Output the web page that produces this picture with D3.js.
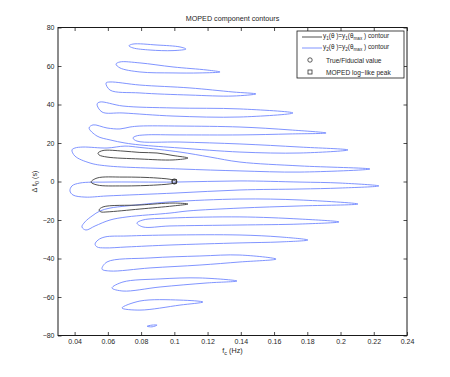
<!DOCTYPE html>
<html>
<head>
<meta charset="utf-8">
<script src="https://cdn.jsdelivr.net/npm/d3@7"></script>
<style>
body { margin: 0; background: #fff; }
svg { display: block; }
text { font-family: "Liberation Sans", Arial, sans-serif; fill: #262626; }
</style>
</head>
<body>
<svg id="chart" width="450" height="377"></svg>
<script>
// axis ticks
const xTicks = [0.04, 0.06, 0.08, 0.1, 0.12, 0.14, 0.16, 0.18, 0.2, 0.22, 0.24];
const xTickLabels = ['0.04', '0.06', '0.08', '0.1', '0.12', '0.14', '0.16', '0.18', '0.2', '0.22', '0.24'];
const yTicks = [-80, -60, -40, -20, 0, 20, 40, 60, 80];
const yTickLabels = ['\u221280', '\u221260', '\u221240', '\u221220', '0', '20', '40', '60', '80'];

// markers: [f_c, dt0]
const fiducial = [0.1, 0];
const molPeak = [0.1, 0];

// y2 contour (blue), closed loops of [f_c (Hz), dt0 (s)]
const blueContours = [
	[[0.0727, 70.5], [0.0751, 71.4], [0.0896, 70.9], [0.1034, 69.9], [0.1070, 68.8], [0.0992, 68.0], [0.0854, 68.3], [0.0751, 69.4]],
	[[0.0649, 61.0], [0.0673, 62.1], [0.0793, 61.6], [0.0992, 59.5], [0.1197, 57.9], [0.1275, 56.9], [0.1154, 56.4], [0.0992, 56.4], [0.0793, 56.9], [0.0673, 59.0]],
	[[0.0589, 51.2], [0.0613, 51.7], [0.0793, 50.1], [0.1094, 48.6], [0.1353, 46.5], [0.1491, 45.5], [0.1353, 44.4], [0.1094, 44.9], [0.0793, 46.0], [0.0613, 47.5]],
	[[0.0535, 40.2], [0.0553, 41.3], [0.0691, 39.2], [0.0992, 38.2], [0.1395, 37.7], [0.1714, 35.6], [0.1395, 33.5], [0.0992, 34.0], [0.0691, 35.6], [0.0565, 36.1]],
	[[0.0487, 27.8], [0.0511, 29.4], [0.0595, 27.8], [0.0673, 27.3], [0.0733, 28.3], [0.0793, 28.8], [0.1034, 28.8], [0.1395, 28.3], [0.1696, 26.8], [0.1913, 25.2],
	 [0.1696, 24.7], [0.1395, 24.2], [0.1034, 24.2], [0.0823, 24.2], [0.0769, 23.6], [0.0751, 22.6], [0.0775, 21.0], [0.1034, 20.5], [0.1395, 19.5], [0.1756, 17.9],
	 [0.2045, 16.4], [0.1756, 14.8], [0.1395, 15.3], [0.1034, 17.4], [0.0793, 19.0], [0.0703, 20.0], [0.0613, 21.6], [0.0535, 23.6]],
	[[0.0384, 16.4], [0.0402, 17.4], [0.0450, 17.9], [0.0595, 17.4], [0.0703, 18.4], [0.0793, 17.7], [0.1034, 15.3], [0.1215, 12.7], [0.1395, 10.1], [0.1756, 8.1],
	 [0.2177, 6.5], [0.1756, 4.9], [0.1395, 5.5], [0.1034, 6.5], [0.0595, 8.1], [0.0493, 9.6], [0.0402, 13.2]],
	[[0.0372, -4.9], [0.0384, -2.3], [0.0432, -0.8], [0.0595, -0.3], [0.1004, -0.3], [0.1395, 0.3], [0.1756, -0.3], [0.1997, -0.8], [0.2231, -2.3],
	 [0.1997, -3.4], [0.1756, -3.9], [0.1395, -4.4], [0.1004, -6.0], [0.0595, -7.5], [0.0462, -8.1], [0.0390, -7.0]],
	[[0.0444, -23.6], [0.0462, -21.0], [0.0505, -17.9], [0.0553, -15.3], [0.0613, -13.8], [0.0715, -12.7], [0.0974, -10.6], [0.1395, -9.1], [0.1756, -9.6], [0.2105, -11.7],
	 [0.1756, -12.7], [0.1395, -13.8], [0.1082, -15.3], [0.0974, -16.4], [0.0715, -18.4], [0.0613, -20.0], [0.0523, -23.1], [0.0468, -25.2]],
	[[0.0775, -21.6], [0.0811, -20.0], [0.0974, -19.0], [0.1395, -18.4], [0.1756, -19.5], [0.1991, -21.0], [0.1756, -22.1], [0.1395, -22.6], [0.0974, -23.1], [0.0811, -23.6]],
	[[0.0523, -32.5], [0.0541, -30.4], [0.0583, -28.8], [0.0715, -28.3], [0.0974, -27.8], [0.1395, -27.8], [0.1636, -28.8], [0.1804, -30.4],
	 [0.1636, -31.4], [0.1395, -31.9], [0.0974, -33.0], [0.0715, -34.0], [0.0583, -34.5], [0.0535, -34.0]],
	[[0.0565, -45.5], [0.0595, -41.8], [0.0854, -39.7], [0.1154, -38.7], [0.1395, -38.2], [0.1612, -40.3], [0.1395, -41.8], [0.1154, -43.4], [0.0854, -44.9], [0.0613, -46.5]],
	[[0.0625, -55.3], [0.0691, -52.2], [0.0914, -50.6], [0.1154, -50.1], [0.1377, -51.7], [0.1197, -52.7], [0.0914, -54.8], [0.0691, -56.9]],
	[[0.0685, -65.7], [0.0793, -62.1], [0.1034, -61.6], [0.1172, -62.6], [0.1034, -64.2], [0.0793, -66.8]],
	[[0.0836, -75.2], [0.0866, -74.6], [0.0896, -74.6], [0.0866, -75.5]]
];

// y1 contour (black)
const blackContours = [
	[[0.0541, 14.8], [0.0571, 16.1], [0.0691, 15.8], [0.0793, 15.1], [0.0896, 14.8], [0.0992, 13.5], [0.1082, 12.2], [0.0992, 11.2], [0.0793, 11.7], [0.0595, 12.7], [0.0547, 13.8]],
	[[0.0499, -0.3], [0.0535, 1.8], [0.0691, 2.3], [0.0896, 1.8], [0.0992, 0.8], [0.1016, -0.3], [0.0992, -1.0], [0.0896, -1.8], [0.0691, -2.3], [0.0535, -1.8]],
	[[0.0547, -14.8], [0.0571, -13.2], [0.0793, -12.2], [0.0992, -11.2], [0.1082, -11.7], [0.0992, -12.7], [0.0793, -14.3], [0.0595, -15.8], [0.0559, -15.8]]
];

const blueColor = '#7288ff';
const blackColor = '#3c3c3c';

const svg = d3.select('#chart');
const margin = {left: 58, right: 43, top: 27.5, bottom: 41.5};
const width = 450 - margin.left - margin.right;
const height = 377 - margin.top - margin.bottom;

const x = d3.scaleLinear().domain([0.03, 0.24]).range([margin.left, margin.left + width]);
const y = d3.scaleLinear().domain([-80, 80]).range([margin.top + height, margin.top]);

const line = d3.line()
	.x(d => x(d[0]))
	.y(d => y(d[1]))
	.curve(d3.curveCatmullRomClosed.alpha(0.5));

// contours
svg.append('g').selectAll('path').data(blueContours).enter()
	.append('path')
	.attr('d', line)
	.attr('fill', 'none')
	.attr('stroke', blueColor)
	.attr('stroke-width', 0.9);

svg.append('g').selectAll('path').data(blackContours).enter()
	.append('path')
	.attr('d', line)
	.attr('fill', 'none')
	.attr('stroke', blackColor)
	.attr('stroke-width', 0.9);

svg.append('circle')
	.attr('cx', x(fiducial[0])).attr('cy', y(fiducial[1]))
	.attr('r', 2.6)
	.attr('fill', 'none').attr('stroke', '#333').attr('stroke-width', 0.8);
svg.append('rect')
	.attr('x', x(molPeak[0]) - 2).attr('y', y(molPeak[1]) - 2)
	.attr('width', 4).attr('height', 4)
	.attr('fill', 'none').attr('stroke', '#333').attr('stroke-width', 0.8);

// axes, MATLAB style: ticks inside on all four sides
const tickLen = 3.5;
const fmtX = (d, i) => xTickLabels[i];
const fmtY = (d, i) => yTickLabels[i];

const gx = svg.append('g').attr('transform', `translate(0,${margin.top + height})`)
	.call(d3.axisBottom(x).tickValues(xTicks).tickFormat(fmtX).tickSizeInner(-tickLen).tickSizeOuter(0).tickPadding(3.5));
const gxTop = svg.append('g').attr('transform', `translate(0,${margin.top})`)
	.call(d3.axisTop(x).tickValues(xTicks).tickFormat('').tickSizeInner(-tickLen).tickSizeOuter(0));
const gy = svg.append('g').attr('transform', `translate(${margin.left},0)`)
	.call(d3.axisLeft(y).tickValues(yTicks).tickFormat(fmtY).tickSizeInner(-tickLen).tickSizeOuter(0).tickPadding(3.5));
const gyRight = svg.append('g').attr('transform', `translate(${margin.left + width},0)`)
	.call(d3.axisRight(y).tickValues(yTicks).tickFormat('').tickSizeInner(-tickLen).tickSizeOuter(0));

[gx, gxTop, gy, gyRight].forEach(g => {
	g.select('.domain').remove();
	g.selectAll('.tick line').attr('stroke', '#222').attr('stroke-width', 0.8);
	g.selectAll('text').attr('font-size', 7).attr('fill', '#262626')
		.attr('font-family', '"Liberation Sans", Arial, sans-serif');
});

svg.append('rect')
	.attr('x', margin.left).attr('y', margin.top)
	.attr('width', width).attr('height', height)
	.attr('fill', 'none').attr('stroke', '#1a1a1a').attr('stroke-width', 1);

// title and labels
svg.append('text')
	.attr('x', margin.left + width / 2).attr('y', 21)
	.attr('text-anchor', 'middle').attr('font-size', 7.2)
	.text('MOPED component contours');

const xl = svg.append('text')
	.attr('x', margin.left + width / 2).attr('y', 353)
	.attr('text-anchor', 'middle').attr('font-size', 7.2);
xl.append('tspan').text('f');
xl.append('tspan').attr('font-size', 5.5).attr('dy', 2).text('c');
xl.append('tspan').attr('dy', -2).text(' (Hz)');

const yl = svg.append('text')
	.attr('transform', `translate(37,${margin.top + height / 2}) rotate(-90)`)
	.attr('text-anchor', 'middle').attr('font-size', 7.2);
yl.append('tspan').text('\u0394 t');
yl.append('tspan').attr('font-size', 5.5).attr('dy', 2).text('0');
yl.append('tspan').attr('dy', -2).text(' (s)');

// legend
const leg = svg.append('g').attr('transform', 'translate(297,31)');
leg.append('rect')
	.attr('width', 107).attr('height', 47)
	.attr('fill', '#fff').attr('stroke', '#1a1a1a').attr('stroke-width', 0.8);

const legendRows = [
	{kind: 'line', color: blackColor, n: '1', cy: 6},
	{kind: 'line', color: blueColor, n: '2', cy: 17}
];
legendRows.forEach(r => {
	leg.append('line')
		.attr('x1', 5).attr('x2', 25).attr('y1', r.cy).attr('y2', r.cy)
		.attr('stroke', r.color).attr('stroke-width', 0.9);
	const t = leg.append('text').attr('x', 26).attr('y', r.cy + 1).attr('font-size', 6.4);
	t.append('tspan').text('y');
	t.append('tspan').attr('font-size', 4.6).attr('dy', 1.8).text(r.n);
	t.append('tspan').attr('dy', -1.8).text('(\u03b8 )=y');
	t.append('tspan').attr('font-size', 4.6).attr('dy', 1.8).text(r.n);
	t.append('tspan').attr('dy', -1.8).text('(\u03b8');
	t.append('tspan').attr('font-size', 4.6).attr('dy', 1.8).text('max');
	t.append('tspan').attr('dy', -1.8).text(' ) contour');
});

leg.append('circle').attr('cx', 13).attr('cy', 29).attr('r', 2.2)
	.attr('fill', 'none').attr('stroke', '#333').attr('stroke-width', 0.8);
leg.append('text').attr('x', 29).attr('y', 31.5).attr('font-size', 6.6).text('True/Fiducial value');
leg.append('rect').attr('x', 11).attr('y', 39).attr('width', 4).attr('height', 4)
	.attr('fill', 'none').attr('stroke', '#333').attr('stroke-width', 0.8);
leg.append('text').attr('x', 29).attr('y', 43.5).attr('font-size', 6.6).text('MOPED log\u2212like peak');
</script>
</body>
</html>
